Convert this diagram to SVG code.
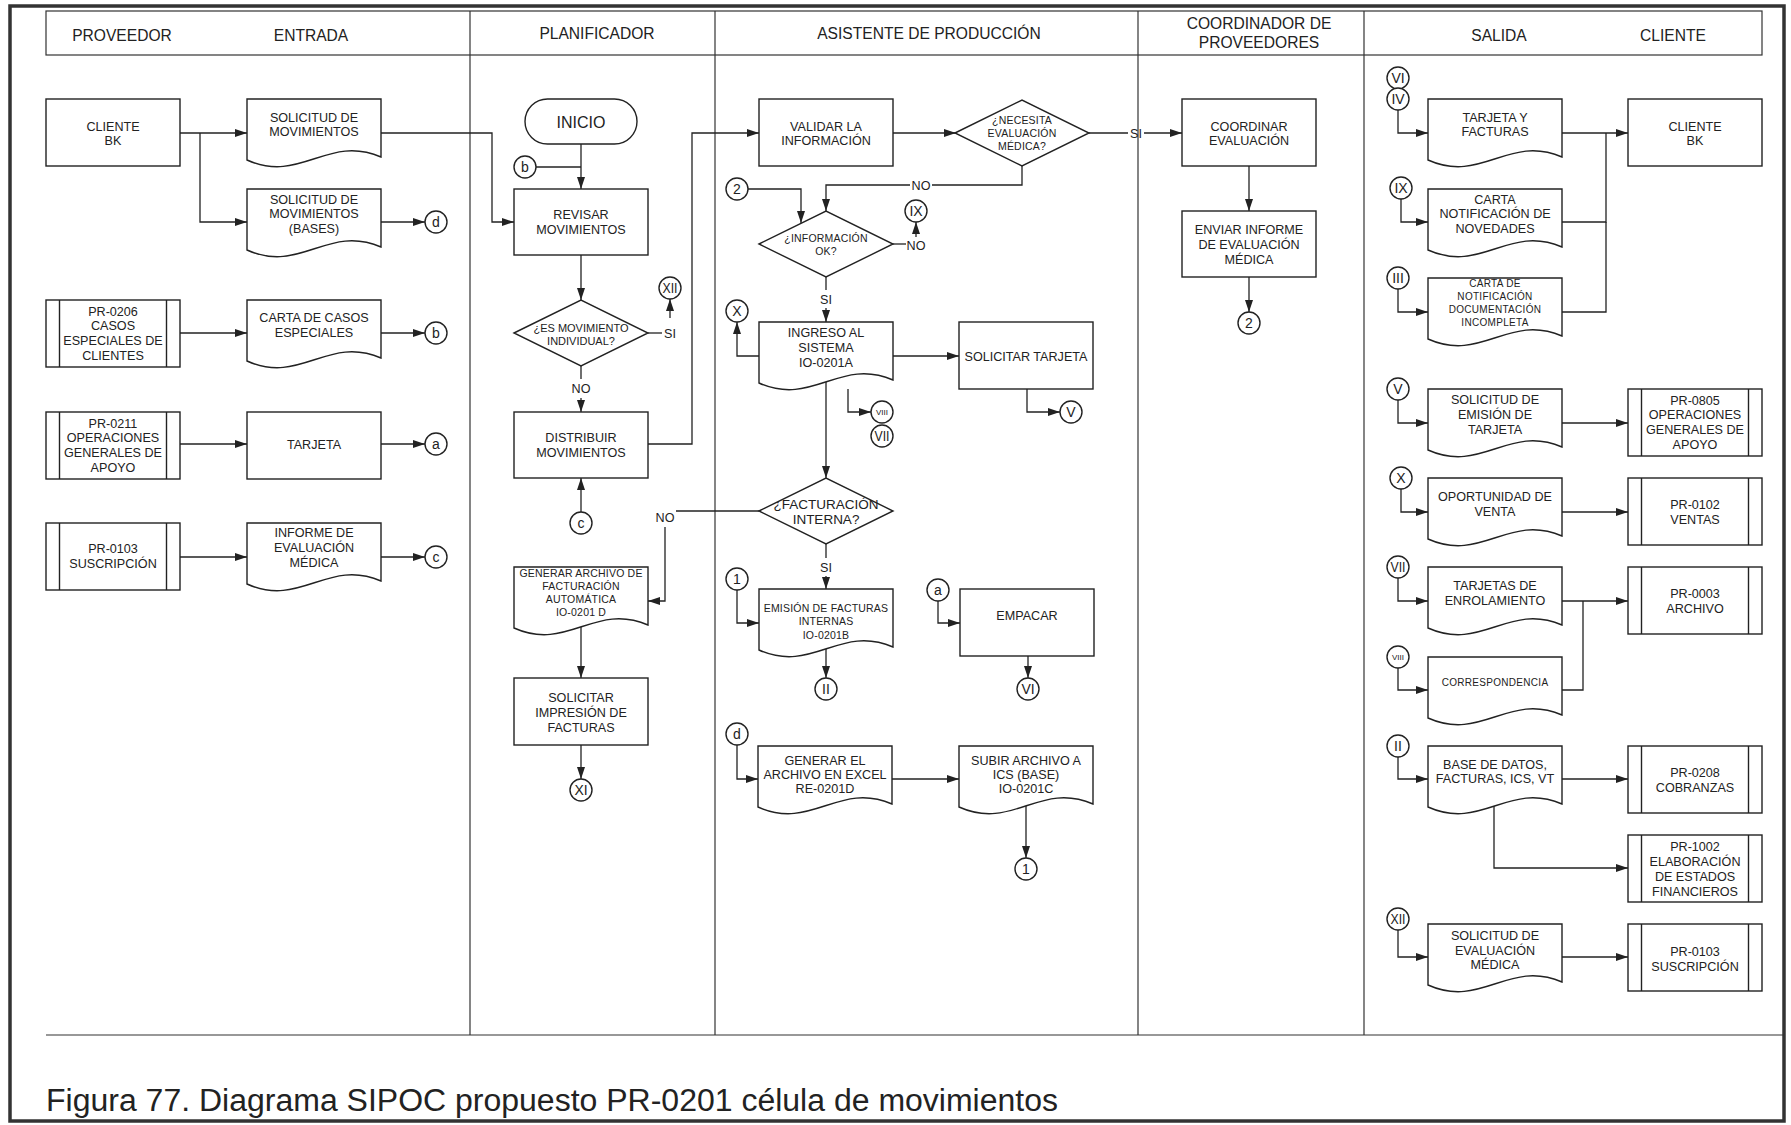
<svg xmlns="http://www.w3.org/2000/svg" xmlns:xlink="http://www.w3.org/1999/xlink" width="1791" height="1125" viewBox="0 0 1791 1125">
  <style>
    .shape { fill: #fff; stroke: #222; stroke-width: 1.4; }
    .ln { fill: none; stroke: #222; stroke-width: 1.3; }
    .lane { fill: none; stroke: #333; stroke-width: 1.2; }
    text { font-family: "Liberation Sans", Arial, sans-serif; fill: #222; text-anchor: middle; }
    .t { font-size: 12.6px; }
    .s { font-size: 10.5px; letter-spacing: 0.2px; }
    .xs { font-size: 10px; letter-spacing: 0.3px; }
    .h { font-size: 15.6px; }
    .c { font-size: 14px; }
    .lbl { font-size: 12.6px; }
    .cap { font-size: 31px; text-anchor: start; }
  </style>
  <defs>
    <marker id="ah" markerWidth="12" markerHeight="8" refX="12" refY="4" orient="auto" markerUnits="userSpaceOnUse">
      <path d="M0,0 L12,4 L0,8 Z" fill="#222"/>
    </marker>
    <!-- document with wavy bottom edge, 134 x 67 -->
    <path id="doc" d="M0,0 H134 V58 C80.4,35 53.6,85 0,61 Z"/>
    <!-- predefined process (sub-process) -->
    <g id="sub">
      <rect width="134" height="67"/>
      <line x1="13.5" y1="0" x2="13.5" y2="67"/>
      <line x1="120.5" y1="0" x2="120.5" y2="67"/>
    </g>
    <path id="dia" d="M-67,0 L0,-33 L67,0 L0,33 Z"/>
    <circle id="con" r="11"/>
  </defs>

  <rect width="1791" height="1125" fill="#fff"/>

  <!-- frame, header and swimlanes -->
  <g id="frame">
    <rect x="10" y="6" width="1774" height="1115" fill="none" stroke="#333" stroke-width="3.5"/>
    <rect x="46" y="11" width="1716" height="44" class="lane"/>
    <line x1="470" y1="11" x2="470" y2="1035" class="lane"/>
    <line x1="715" y1="11" x2="715" y2="1035" class="lane"/>
    <line x1="1138" y1="11" x2="1138" y2="1035" class="lane"/>
    <line x1="1364" y1="11" x2="1364" y2="1035" class="lane"/>
    <line x1="46" y1="1035" x2="1784" y2="1035" class="lane"/>
    <text class="h" x="122" y="40.6">PROVEEDOR</text>
    <text class="h" x="311" y="40.6">ENTRADA</text>
    <text class="h" x="597" y="38.6">PLANIFICADOR</text>
    <text class="h" x="929" y="38.6">ASISTENTE DE PRODUCCIÓN</text>
    <text class="h" x="1259" y="28.6">COORDINADOR DE</text>
    <text class="h" x="1259" y="47.6">PROVEEDORES</text>
    <text class="h" x="1499" y="40.6">SALIDA</text>
    <text class="h" x="1673" y="40.6">CLIENTE</text>
    <text class="cap" x="46" y="1111" textLength="1012" lengthAdjust="spacingAndGlyphs">Figura 77. Diagrama SIPOC propuesto PR-0201 célula de movimientos</text>
  </g>

  <!-- connectors -->
  <g id="connectors">
    <path class="ln" d="M180,133 H247" marker-end="url(#ah)"/>
    <path class="ln" d="M200,133 V222 H247" marker-end="url(#ah)"/>
    <path class="ln" d="M380,222 H425" marker-end="url(#ah)"/>
    <path class="ln" d="M180,333 H247" marker-end="url(#ah)"/>
    <path class="ln" d="M380,333 H425" marker-end="url(#ah)"/>
    <path class="ln" d="M180,444 H247" marker-end="url(#ah)"/>
    <path class="ln" d="M380,444 H425" marker-end="url(#ah)"/>
    <path class="ln" d="M180,557 H247" marker-end="url(#ah)"/>
    <path class="ln" d="M380,557 H425" marker-end="url(#ah)"/>
    <path class="ln" d="M380,133 H492 V222 H514" marker-end="url(#ah)"/>
    <path class="ln" d="M581,144 V189" marker-end="url(#ah)"/>
    <path class="ln" d="M536,167 H581"/>
    <path class="ln" d="M581,255 V300" marker-end="url(#ah)"/>
    <path class="ln" d="M648,333 H662"/>
    <text class="lbl" x="670" y="337.5">SI</text>
    <path class="ln" d="M670,318 V299" marker-end="url(#ah)"/>
    <path class="ln" d="M581,366 V379"/>
    <text class="lbl" x="581" y="392.5">NO</text>
    <path class="ln" d="M581,398 V412" marker-end="url(#ah)"/>
    <path class="ln" d="M648,444 H692 V133 H759" marker-end="url(#ah)"/>
    <path class="ln" d="M581,512 V478" marker-end="url(#ah)"/>
    <path class="ln" d="M759,511 H676"/>
    <text class="lbl" x="665" y="521.5">NO</text>
    <path class="ln" d="M665,527 V601 H648" marker-end="url(#ah)"/>
    <path class="ln" d="M581,627 V678" marker-end="url(#ah)"/>
    <path class="ln" d="M581,745 V779" marker-end="url(#ah)"/>
    <path class="ln" d="M893,133 H956" marker-end="url(#ah)"/>
    <path class="ln" d="M1089,133 H1128"/>
    <text class="lbl" x="1136" y="137.5">SI</text>
    <path class="ln" d="M1144,133 H1182" marker-end="url(#ah)"/>
    <path class="ln" d="M1022,166 V185 H932"/>
    <text class="lbl" x="921" y="189.5">NO</text>
    <path class="ln" d="M910,185 H826 V211" marker-end="url(#ah)"/>
    <path class="ln" d="M748,189 H801 V223" marker-end="url(#ah)"/>
    <path class="ln" d="M892,244 H906"/>
    <text class="lbl" x="916" y="249.5">NO</text>
    <path class="ln" d="M916,237 V222" marker-end="url(#ah)"/>
    <path class="ln" d="M826,277 V290"/>
    <text class="lbl" x="826" y="303.5">SI</text>
    <path class="ln" d="M826,308 V322" marker-end="url(#ah)"/>
    <path class="ln" d="M759,356 H737 V322" marker-end="url(#ah)"/>
    <path class="ln" d="M893,356 H959" marker-end="url(#ah)"/>
    <path class="ln" d="M1027,389 V412 H1060" marker-end="url(#ah)"/>
    <path class="ln" d="M848,389 V412 H871" marker-end="url(#ah)"/>
    <path class="ln" d="M826,382 V478" marker-end="url(#ah)"/>
    <path class="ln" d="M826,544 V558"/>
    <text class="lbl" x="826" y="571.5">SI</text>
    <path class="ln" d="M826,576 V589" marker-end="url(#ah)"/>
    <path class="ln" d="M737,590 V623 H759" marker-end="url(#ah)"/>
    <path class="ln" d="M826,649 V678" marker-end="url(#ah)"/>
    <path class="ln" d="M938,601 V623 H960" marker-end="url(#ah)"/>
    <path class="ln" d="M1028,656 V678" marker-end="url(#ah)"/>
    <path class="ln" d="M737,745 V779 H758" marker-end="url(#ah)"/>
    <path class="ln" d="M891,779 H959" marker-end="url(#ah)"/>
    <path class="ln" d="M1026,806 V858" marker-end="url(#ah)"/>
    <path class="ln" d="M1249,166 V211" marker-end="url(#ah)"/>
    <path class="ln" d="M1249,277 V312" marker-end="url(#ah)"/>
    <path class="ln" d="M1398,110 V133 H1428" marker-end="url(#ah)"/>
    <path class="ln" d="M1561,133 H1628" marker-end="url(#ah)"/>
    <path class="ln" d="M1561,222 H1606 V133"/>
    <path class="ln" d="M1561,312 H1606 V222"/>
    <path class="ln" d="M1401,199 V222 H1428" marker-end="url(#ah)"/>
    <path class="ln" d="M1398,289 V312 H1428" marker-end="url(#ah)"/>
    <path class="ln" d="M1398,400 V423 H1428" marker-end="url(#ah)"/>
    <path class="ln" d="M1561,423 H1628" marker-end="url(#ah)"/>
    <path class="ln" d="M1401,489 V512 H1428" marker-end="url(#ah)"/>
    <path class="ln" d="M1561,512 H1628" marker-end="url(#ah)"/>
    <path class="ln" d="M1398,578 V601 H1428" marker-end="url(#ah)"/>
    <path class="ln" d="M1561,601 H1628" marker-end="url(#ah)"/>
    <path class="ln" d="M1561,690 H1583 V601"/>
    <path class="ln" d="M1398,668 V690 H1428" marker-end="url(#ah)"/>
    <path class="ln" d="M1398,757 V779 H1428" marker-end="url(#ah)"/>
    <path class="ln" d="M1561,779 H1628" marker-end="url(#ah)"/>
    <path class="ln" d="M1494,806 V868 H1628" marker-end="url(#ah)"/>
    <path class="ln" d="M1398,930 V957 H1428" marker-end="url(#ah)"/>
    <path class="ln" d="M1561,957 H1628" marker-end="url(#ah)"/>
  </g>

  <!-- PROVEEDOR / ENTRADA -->
  <g id="n-cliente-bk-in" transform="translate(46,99)">
    <rect class="shape" width="134" height="67"/>
    <text class="t"><tspan x="67" y="31.5">CLIENTE</tspan><tspan x="67" y="45.5">BK</tspan></text>
  </g>
  <g id="n-solicitud-mov" transform="translate(247,99)">
    <use href="#doc" class="shape"/>
    <text class="t"><tspan x="67" y="22.5">SOLICITUD DE</tspan><tspan x="67" y="36.5">MOVIMIENTOS</tspan></text>
  </g>
  <g id="n-solicitud-bases" transform="translate(247,189)">
    <use href="#doc" class="shape"/>
    <text class="t"><tspan x="67" y="14.5">SOLICITUD DE</tspan><tspan x="67" y="29">MOVIMIENTOS</tspan><tspan x="67" y="44">(BASES)</tspan></text>
  </g>
  <g id="n-pr0206" transform="translate(46,300)">
    <use href="#sub" class="shape"/>
    <text class="t"><tspan x="67" y="15.5">PR-0206</tspan><tspan x="67" y="30">CASOS</tspan><tspan x="67" y="44.5">ESPECIALES DE</tspan><tspan x="67" y="59.5">CLIENTES</tspan></text>
  </g>
  <g id="n-carta-casos" transform="translate(247,300)">
    <use href="#doc" class="shape"/>
    <text class="t"><tspan x="67" y="21.5">CARTA DE CASOS</tspan><tspan x="67" y="36.5">ESPECIALES</tspan></text>
  </g>
  <g id="n-pr0211" transform="translate(46,412)">
    <use href="#sub" class="shape"/>
    <text class="t"><tspan x="67" y="15.5">PR-0211</tspan><tspan x="67" y="30">OPERACIONES</tspan><tspan x="67" y="44.5">GENERALES DE</tspan><tspan x="67" y="59.5">APOYO</tspan></text>
  </g>
  <g id="n-tarjeta" transform="translate(247,412)">
    <rect class="shape" width="134" height="67"/>
    <text class="t"><tspan x="67" y="36.5">TARJETA</tspan></text>
  </g>
  <g id="n-pr0103-in" transform="translate(46,523)">
    <use href="#sub" class="shape"/>
    <text class="t"><tspan x="67" y="29.5">PR-0103</tspan><tspan x="67" y="44.5">SUSCRIPCIÓN</tspan></text>
  </g>
  <g id="n-informe" transform="translate(247,523)">
    <use href="#doc" class="shape"/>
    <text class="t"><tspan x="67" y="13.5">INFORME DE</tspan><tspan x="67" y="28.5">EVALUACIÓN</tspan><tspan x="67" y="43.5">MÉDICA</tspan></text>
  </g>
  <g id="c-d1"><use href="#con" class="shape" x="436" y="222"/><text class="c" x="436" y="227">d</text></g>
  <g id="c-b1"><use href="#con" class="shape" x="436" y="333"/><text class="c" x="436" y="338">b</text></g>
  <g id="c-a1"><use href="#con" class="shape" x="436" y="444"/><text class="c" x="436" y="449">a</text></g>
  <g id="c-c1"><use href="#con" class="shape" x="436" y="557"/><text class="c" x="436" y="562">c</text></g>

  <!-- PLANIFICADOR -->
  <g id="n-inicio">
    <rect class="shape" x="525" y="99" width="112" height="45" rx="22.5"/>
    <text x="581" y="127.7" style="font-size:16px">INICIO</text>
  </g>
  <g id="c-b2"><use href="#con" class="shape" x="525" y="167"/><text class="c" x="525" y="172">b</text></g>
  <g id="n-revisar" transform="translate(514,189)">
    <rect class="shape" width="134" height="66"/>
    <text class="t"><tspan x="67" y="29.5">REVISAR</tspan><tspan x="67" y="44.5">MOVIMIENTOS</tspan></text>
  </g>
  <g id="n-es-individual" transform="translate(581,333)">
    <use href="#dia" class="shape"/>
    <text style="font-size:11px"><tspan x="0" y="-1">¿ES MOVIMIENTO</tspan><tspan x="0" y="12">INDIVIDUAL?</tspan></text>
  </g>
  <g id="c-xii1"><use href="#con" class="shape" x="670" y="288"/><text class="c" x="670" y="293" textLength="15" lengthAdjust="spacingAndGlyphs">XII</text></g>
  <g id="n-distribuir" transform="translate(514,412)">
    <rect class="shape" width="134" height="66"/>
    <text class="t"><tspan x="67" y="29.5">DISTRIBUIR</tspan><tspan x="67" y="44.5">MOVIMIENTOS</tspan></text>
  </g>
  <g id="c-c2"><use href="#con" class="shape" x="581" y="523"/><text class="c" x="581" y="528">c</text></g>
  <g id="n-generar-archivo" transform="translate(514,567)">
    <use href="#doc" class="shape"/>
    <text class="s"><tspan x="67" y="9.8">GENERAR ARCHIVO DE</tspan><tspan x="67" y="22.8">FACTURACIÓN</tspan><tspan x="67" y="35.8">AUTOMÁTICA</tspan><tspan x="67" y="48.8">IO-0201 D</tspan></text>
  </g>
  <g id="n-solicitar-impresion" transform="translate(514,678)">
    <rect class="shape" width="134" height="67"/>
    <text class="t"><tspan x="67" y="23.5">SOLICITAR</tspan><tspan x="67" y="38.5">IMPRESIÓN DE</tspan><tspan x="67" y="53.5">FACTURAS</tspan></text>
  </g>
  <g id="c-xi"><use href="#con" class="shape" x="581" y="790"/><text class="c" x="581" y="795">XI</text></g>

  <!-- ASISTENTE DE PRODUCCION -->
  <g id="n-validar" transform="translate(759,99)">
    <rect class="shape" width="134" height="67"/>
    <text class="t"><tspan x="67" y="31.5">VALIDAR LA</tspan><tspan x="67" y="45.5">INFORMACIÓN</tspan></text>
  </g>
  <g id="n-necesita" transform="translate(1022,133)">
    <use href="#dia" class="shape"/>
    <text class="s"><tspan x="0" y="-9.2">¿NECESITA</tspan><tspan x="0" y="3.8">EVALUACIÓN</tspan><tspan x="0" y="16.8">MÉDICA?</tspan></text>
  </g>
  <g id="c-2a"><use href="#con" class="shape" x="737" y="189"/><text class="c" x="737" y="194">2</text></g>
  <g id="n-info-ok" transform="translate(826,244)">
    <use href="#dia" class="shape"/>
    <text class="s"><tspan x="0" y="-2.2">¿INFORMACIÓN</tspan><tspan x="0" y="10.8">OK?</tspan></text>
  </g>
  <g id="c-ix1"><use href="#con" class="shape" x="916" y="211"/><text class="c" x="916" y="216">IX</text></g>
  <g id="c-x1"><use href="#con" class="shape" x="737" y="311"/><text class="c" x="737" y="316">X</text></g>
  <g id="n-ingreso" transform="translate(759,322)">
    <use href="#doc" class="shape"/>
    <text class="t"><tspan x="67" y="14.5">INGRESO AL</tspan><tspan x="67" y="29.5">SISTEMA</tspan><tspan x="67" y="44.5">IO-0201A</tspan></text>
  </g>
  <g id="n-solicitar-tarjeta" transform="translate(959,322)">
    <rect class="shape" width="134" height="67"/>
    <text class="t"><tspan x="67" y="38.5">SOLICITAR TARJETA</tspan></text>
  </g>
  <g id="c-v1"><use href="#con" class="shape" x="1071" y="412"/><text class="c" x="1071" y="417">V</text></g>
  <g id="c-viii1"><use href="#con" class="shape" x="882" y="412"/><text x="882" y="415" style="font-size:8px">VIII</text></g>
  <g id="c-vii1"><use href="#con" class="shape" x="882" y="436"/><text class="c" x="882" y="441" textLength="15" lengthAdjust="spacingAndGlyphs">VII</text></g>
  <g id="n-facturacion" transform="translate(826,511)">
    <use href="#dia" class="shape"/>
    <text style="font-size:13.5px"><tspan x="0" y="-2.2">¿FACTURACIÓN</tspan><tspan x="0" y="12.8">INTERNA?</tspan></text>
  </g>
  <g id="c-1a"><use href="#con" class="shape" x="737" y="579"/><text class="c" x="737" y="584">1</text></g>
  <g id="n-emision" transform="translate(759,589)">
    <use href="#doc" class="shape"/>
    <text class="s"><tspan x="67" y="22.8">EMISIÓN DE FACTURAS</tspan><tspan x="67" y="35.8">INTERNAS</tspan><tspan x="67" y="49.8">IO-0201B</tspan></text>
  </g>
  <g id="c-ii1"><use href="#con" class="shape" x="826" y="689"/><text class="c" x="826" y="694">II</text></g>
  <g id="c-a2"><use href="#con" class="shape" x="938" y="590"/><text class="c" x="938" y="595">a</text></g>
  <g id="n-empacar" transform="translate(960,589)">
    <rect class="shape" width="134" height="67"/>
    <text class="t"><tspan x="67" y="30.5">EMPACAR</tspan></text>
  </g>
  <g id="c-vi1"><use href="#con" class="shape" x="1028" y="689"/><text class="c" x="1028" y="694">VI</text></g>
  <g id="c-d2"><use href="#con" class="shape" x="737" y="734"/><text class="c" x="737" y="739">d</text></g>
  <g id="n-generar-excel" transform="translate(758,746)">
    <use href="#doc" class="shape"/>
    <text class="t"><tspan x="67" y="18.5">GENERAR EL</tspan><tspan x="67" y="32.5">ARCHIVO EN EXCEL</tspan><tspan x="67" y="46.5">RE-0201D</tspan></text>
  </g>
  <g id="n-subir" transform="translate(959,746)">
    <use href="#doc" class="shape"/>
    <text class="t"><tspan x="67" y="18.5">SUBIR ARCHIVO A</tspan><tspan x="67" y="32.5">ICS (BASE)</tspan><tspan x="67" y="46.5">IO-0201C</tspan></text>
  </g>
  <g id="c-1b"><use href="#con" class="shape" x="1026" y="869"/><text class="c" x="1026" y="874">1</text></g>

  <!-- COORDINADOR DE PROVEEDORES -->
  <g id="n-coordinar" transform="translate(1182,99)">
    <rect class="shape" width="134" height="67"/>
    <text class="t"><tspan x="67" y="31.5">COORDINAR</tspan><tspan x="67" y="45.5">EVALUACIÓN</tspan></text>
  </g>
  <g id="n-enviar" transform="translate(1182,211)">
    <rect class="shape" width="134" height="66"/>
    <text class="t"><tspan x="67" y="22.5">ENVIAR INFORME</tspan><tspan x="67" y="37.5">DE EVALUACIÓN</tspan><tspan x="67" y="52.5">MÉDICA</tspan></text>
  </g>
  <g id="c-2b"><use href="#con" class="shape" x="1249" y="323"/><text class="c" x="1249" y="328">2</text></g>

  <!-- SALIDA / CLIENTE -->
  <g id="c-vi2"><use href="#con" class="shape" x="1398" y="78"/><text class="c" x="1398" y="83">VI</text></g>
  <g id="c-iv"><use href="#con" class="shape" x="1398" y="99"/><text class="c" x="1398" y="104">IV</text></g>
  <g id="n-tarjeta-facturas" transform="translate(1428,99)">
    <use href="#doc" class="shape"/>
    <text class="t"><tspan x="67" y="22.5">TARJETA Y</tspan><tspan x="67" y="36.5">FACTURAS</tspan></text>
  </g>
  <g id="n-cliente-bk-out" transform="translate(1628,99)">
    <rect class="shape" width="134" height="67"/>
    <text class="t"><tspan x="67" y="31.5">CLIENTE</tspan><tspan x="67" y="45.5">BK</tspan></text>
  </g>
  <g id="c-ix2"><use href="#con" class="shape" x="1401" y="188"/><text class="c" x="1401" y="193">IX</text></g>
  <g id="n-carta-novedades" transform="translate(1428,189)">
    <use href="#doc" class="shape"/>
    <text class="t"><tspan x="67" y="14.5">CARTA</tspan><tspan x="67" y="29">NOTIFICACIÓN DE</tspan><tspan x="67" y="43.5">NOVEDADES</tspan></text>
  </g>
  <g id="c-iii"><use href="#con" class="shape" x="1398" y="278"/><text class="c" x="1398" y="283">III</text></g>
  <g id="n-carta-incompleta" transform="translate(1428,278)">
    <use href="#doc" class="shape"/>
    <text class="xs"><tspan x="67" y="8.6">CARTA DE</tspan><tspan x="67" y="21.6">NOTIFICACIÓN</tspan><tspan x="67" y="34.6">DOCUMENTACIÓN</tspan><tspan x="67" y="47.6">INCOMPLETA</tspan></text>
  </g>
  <g id="c-v2"><use href="#con" class="shape" x="1398" y="389"/><text class="c" x="1398" y="394">V</text></g>
  <g id="n-solicitud-emision" transform="translate(1428,389)">
    <use href="#doc" class="shape"/>
    <text class="t"><tspan x="67" y="14.5">SOLICITUD DE</tspan><tspan x="67" y="29.5">EMISIÓN DE</tspan><tspan x="67" y="44.5">TARJETA</tspan></text>
  </g>
  <g id="n-pr0805" transform="translate(1628,389)">
    <use href="#sub" class="shape"/>
    <text class="t"><tspan x="67" y="15.5">PR-0805</tspan><tspan x="67" y="30">OPERACIONES</tspan><tspan x="67" y="45">GENERALES DE</tspan><tspan x="67" y="60">APOYO</tspan></text>
  </g>
  <g id="c-x2"><use href="#con" class="shape" x="1401" y="478"/><text class="c" x="1401" y="483">X</text></g>
  <g id="n-oportunidad" transform="translate(1428,478)">
    <use href="#doc" class="shape"/>
    <text class="t"><tspan x="67" y="22.5">OPORTUNIDAD DE</tspan><tspan x="67" y="37.5">VENTA</tspan></text>
  </g>
  <g id="n-pr0102" transform="translate(1628,478)">
    <use href="#sub" class="shape"/>
    <text class="t"><tspan x="67" y="30.5">PR-0102</tspan><tspan x="67" y="45.5">VENTAS</tspan></text>
  </g>
  <g id="c-vii2"><use href="#con" class="shape" x="1398" y="567"/><text class="c" x="1398" y="572" textLength="15" lengthAdjust="spacingAndGlyphs">VII</text></g>
  <g id="n-tarjetas-enrol" transform="translate(1428,567)">
    <use href="#doc" class="shape"/>
    <text class="t"><tspan x="67" y="22.5">TARJETAS DE</tspan><tspan x="67" y="37.5">ENROLAMIENTO</tspan></text>
  </g>
  <g id="n-pr0003" transform="translate(1628,567)">
    <use href="#sub" class="shape"/>
    <text class="t"><tspan x="67" y="30.5">PR-0003</tspan><tspan x="67" y="45.5">ARCHIVO</tspan></text>
  </g>
  <g id="c-viii2"><use href="#con" class="shape" x="1398" y="657"/><text x="1398" y="660" style="font-size:8px">VIII</text></g>
  <g id="n-correspondencia" transform="translate(1428,657)">
    <use href="#doc" class="shape"/>
    <text class="xs"><tspan x="67" y="28.6">CORRESPONDENCIA</tspan></text>
  </g>
  <g id="c-ii2"><use href="#con" class="shape" x="1398" y="746"/><text class="c" x="1398" y="751">II</text></g>
  <g id="n-base-datos" transform="translate(1428,746)">
    <use href="#doc" class="shape"/>
    <text class="t"><tspan x="67" y="22.5">BASE DE DATOS,</tspan><tspan x="67" y="36.5">FACTURAS, ICS, VT</tspan></text>
  </g>
  <g id="n-pr0208" transform="translate(1628,746)">
    <use href="#sub" class="shape"/>
    <text class="t"><tspan x="67" y="30.5">PR-0208</tspan><tspan x="67" y="45.5">COBRANZAS</tspan></text>
  </g>
  <g id="n-pr1002" transform="translate(1628,835)">
    <use href="#sub" class="shape"/>
    <text class="t"><tspan x="67" y="15.5">PR-1002</tspan><tspan x="67" y="30.5">ELABORACIÓN</tspan><tspan x="67" y="45.5">DE ESTADOS</tspan><tspan x="67" y="60.5">FINANCIEROS</tspan></text>
  </g>
  <g id="c-xii2"><use href="#con" class="shape" x="1398" y="919"/><text class="c" x="1398" y="924" textLength="15" lengthAdjust="spacingAndGlyphs">XII</text></g>
  <g id="n-solicitud-eval" transform="translate(1428,924)">
    <use href="#doc" class="shape"/>
    <text class="t"><tspan x="67" y="15.5">SOLICITUD DE</tspan><tspan x="67" y="30.5">EVALUACIÓN</tspan><tspan x="67" y="44.5">MÉDICA</tspan></text>
  </g>
  <g id="n-pr0103-out" transform="translate(1628,924)">
    <use href="#sub" class="shape"/>
    <text class="t"><tspan x="67" y="31.5">PR-0103</tspan><tspan x="67" y="46.5">SUSCRIPCIÓN</tspan></text>
  </g>
</svg>
